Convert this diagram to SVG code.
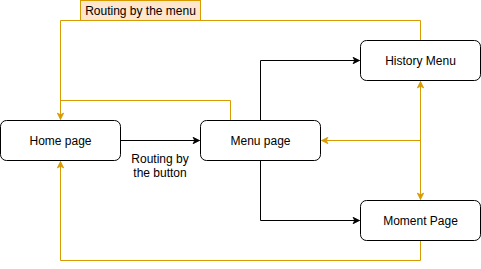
<svg xmlns="http://www.w3.org/2000/svg" width="481" height="269" viewBox="0 0 481 269">
  <style>
    .node rect { fill: #ffffff; stroke: #000000; stroke-width: 1; }
    .node text, .label { font-family: "Liberation Sans", Arial, Helvetica, sans-serif; font-size: 12px; fill: #000000; text-anchor: middle; }
    .edge { fill: none; stroke: #000000; stroke-width: 1; }
    .edge-o { fill: none; stroke: #d79b00; stroke-width: 1; }
  </style>
  <defs>
    <marker id="arrowK" viewBox="0 0 10 10" refX="9" refY="5" markerWidth="8" markerHeight="8" markerUnits="userSpaceOnUse" orient="auto-start-reverse">
      <path d="M1,1 L9,5 L1,9 L3,5 Z" fill="#000000" stroke="#000000" stroke-width="1"/>
    </marker>
    <marker id="arrowO" viewBox="0 0 10 10" refX="9" refY="5" markerWidth="8" markerHeight="8" markerUnits="userSpaceOnUse" orient="auto-start-reverse">
      <path d="M1,1 L9,5 L1,9 L3,5 Z" fill="#d79b00" stroke="#d79b00" stroke-width="1"/>
    </marker>
  </defs>

  <g id="connectors">
    <!-- black routes -->
    <path class="edge" d="M120.5,140.5 L199.5,140.5" marker-end="url(#arrowK)"/>
    <path class="edge" d="M260.5,120.5 L260.5,60.5 L359.5,60.5" marker-end="url(#arrowK)"/>
    <path class="edge" d="M260.5,160.5 L260.5,220.5 L359.5,220.5" marker-end="url(#arrowK)"/>
    <!-- orange routes back to home -->
    <path class="edge-o" d="M420.5,40.5 L420.5,20.5 L60.5,20.5 L60.5,119.5" marker-end="url(#arrowO)"/>
    <path class="edge-o" d="M230.5,120.5 L230.5,100.5 L60.5,100.5"/>
    <path class="edge-o" d="M420.5,240.5 L420.5,260.5 L60.5,260.5 L60.5,161.5" marker-end="url(#arrowO)"/>
    <!-- orange routes between history, menu and moment -->
    <path class="edge-o" d="M420.5,81.5 L420.5,199.5" marker-start="url(#arrowO)" marker-end="url(#arrowO)"/>
    <path class="edge-o" d="M420.5,140.5 L321.5,140.5" marker-end="url(#arrowO)"/>
  </g>

  <g id="label-menu">
    <rect x="80.5" y="0.5" width="120" height="20" fill="#ffe6cc" stroke="#d79b00"/>
    <text class="label" x="140.5" y="15">Routing by the menu</text>
  </g>
  <g id="label-button">
    <text class="label" x="160" y="163">Routing by</text>
    <text class="label" x="160" y="177">the button</text>
  </g>

  <g id="home-page" class="node">
    <rect x="0.5" y="120.5" width="120" height="40" rx="6" ry="6"/>
    <text x="60.5" y="145">Home page</text>
  </g>
  <g id="menu-page" class="node">
    <rect x="200.5" y="120.5" width="120" height="40" rx="6" ry="6"/>
    <text x="260.5" y="145">Menu page</text>
  </g>
  <g id="history-menu" class="node">
    <rect x="360.5" y="40.5" width="120" height="40" rx="6" ry="6"/>
    <text x="420.5" y="65">History Menu</text>
  </g>
  <g id="moment-page" class="node">
    <rect x="360.5" y="200.5" width="120" height="40" rx="6" ry="6"/>
    <text x="420.5" y="225">Moment Page</text>
  </g>
</svg>
